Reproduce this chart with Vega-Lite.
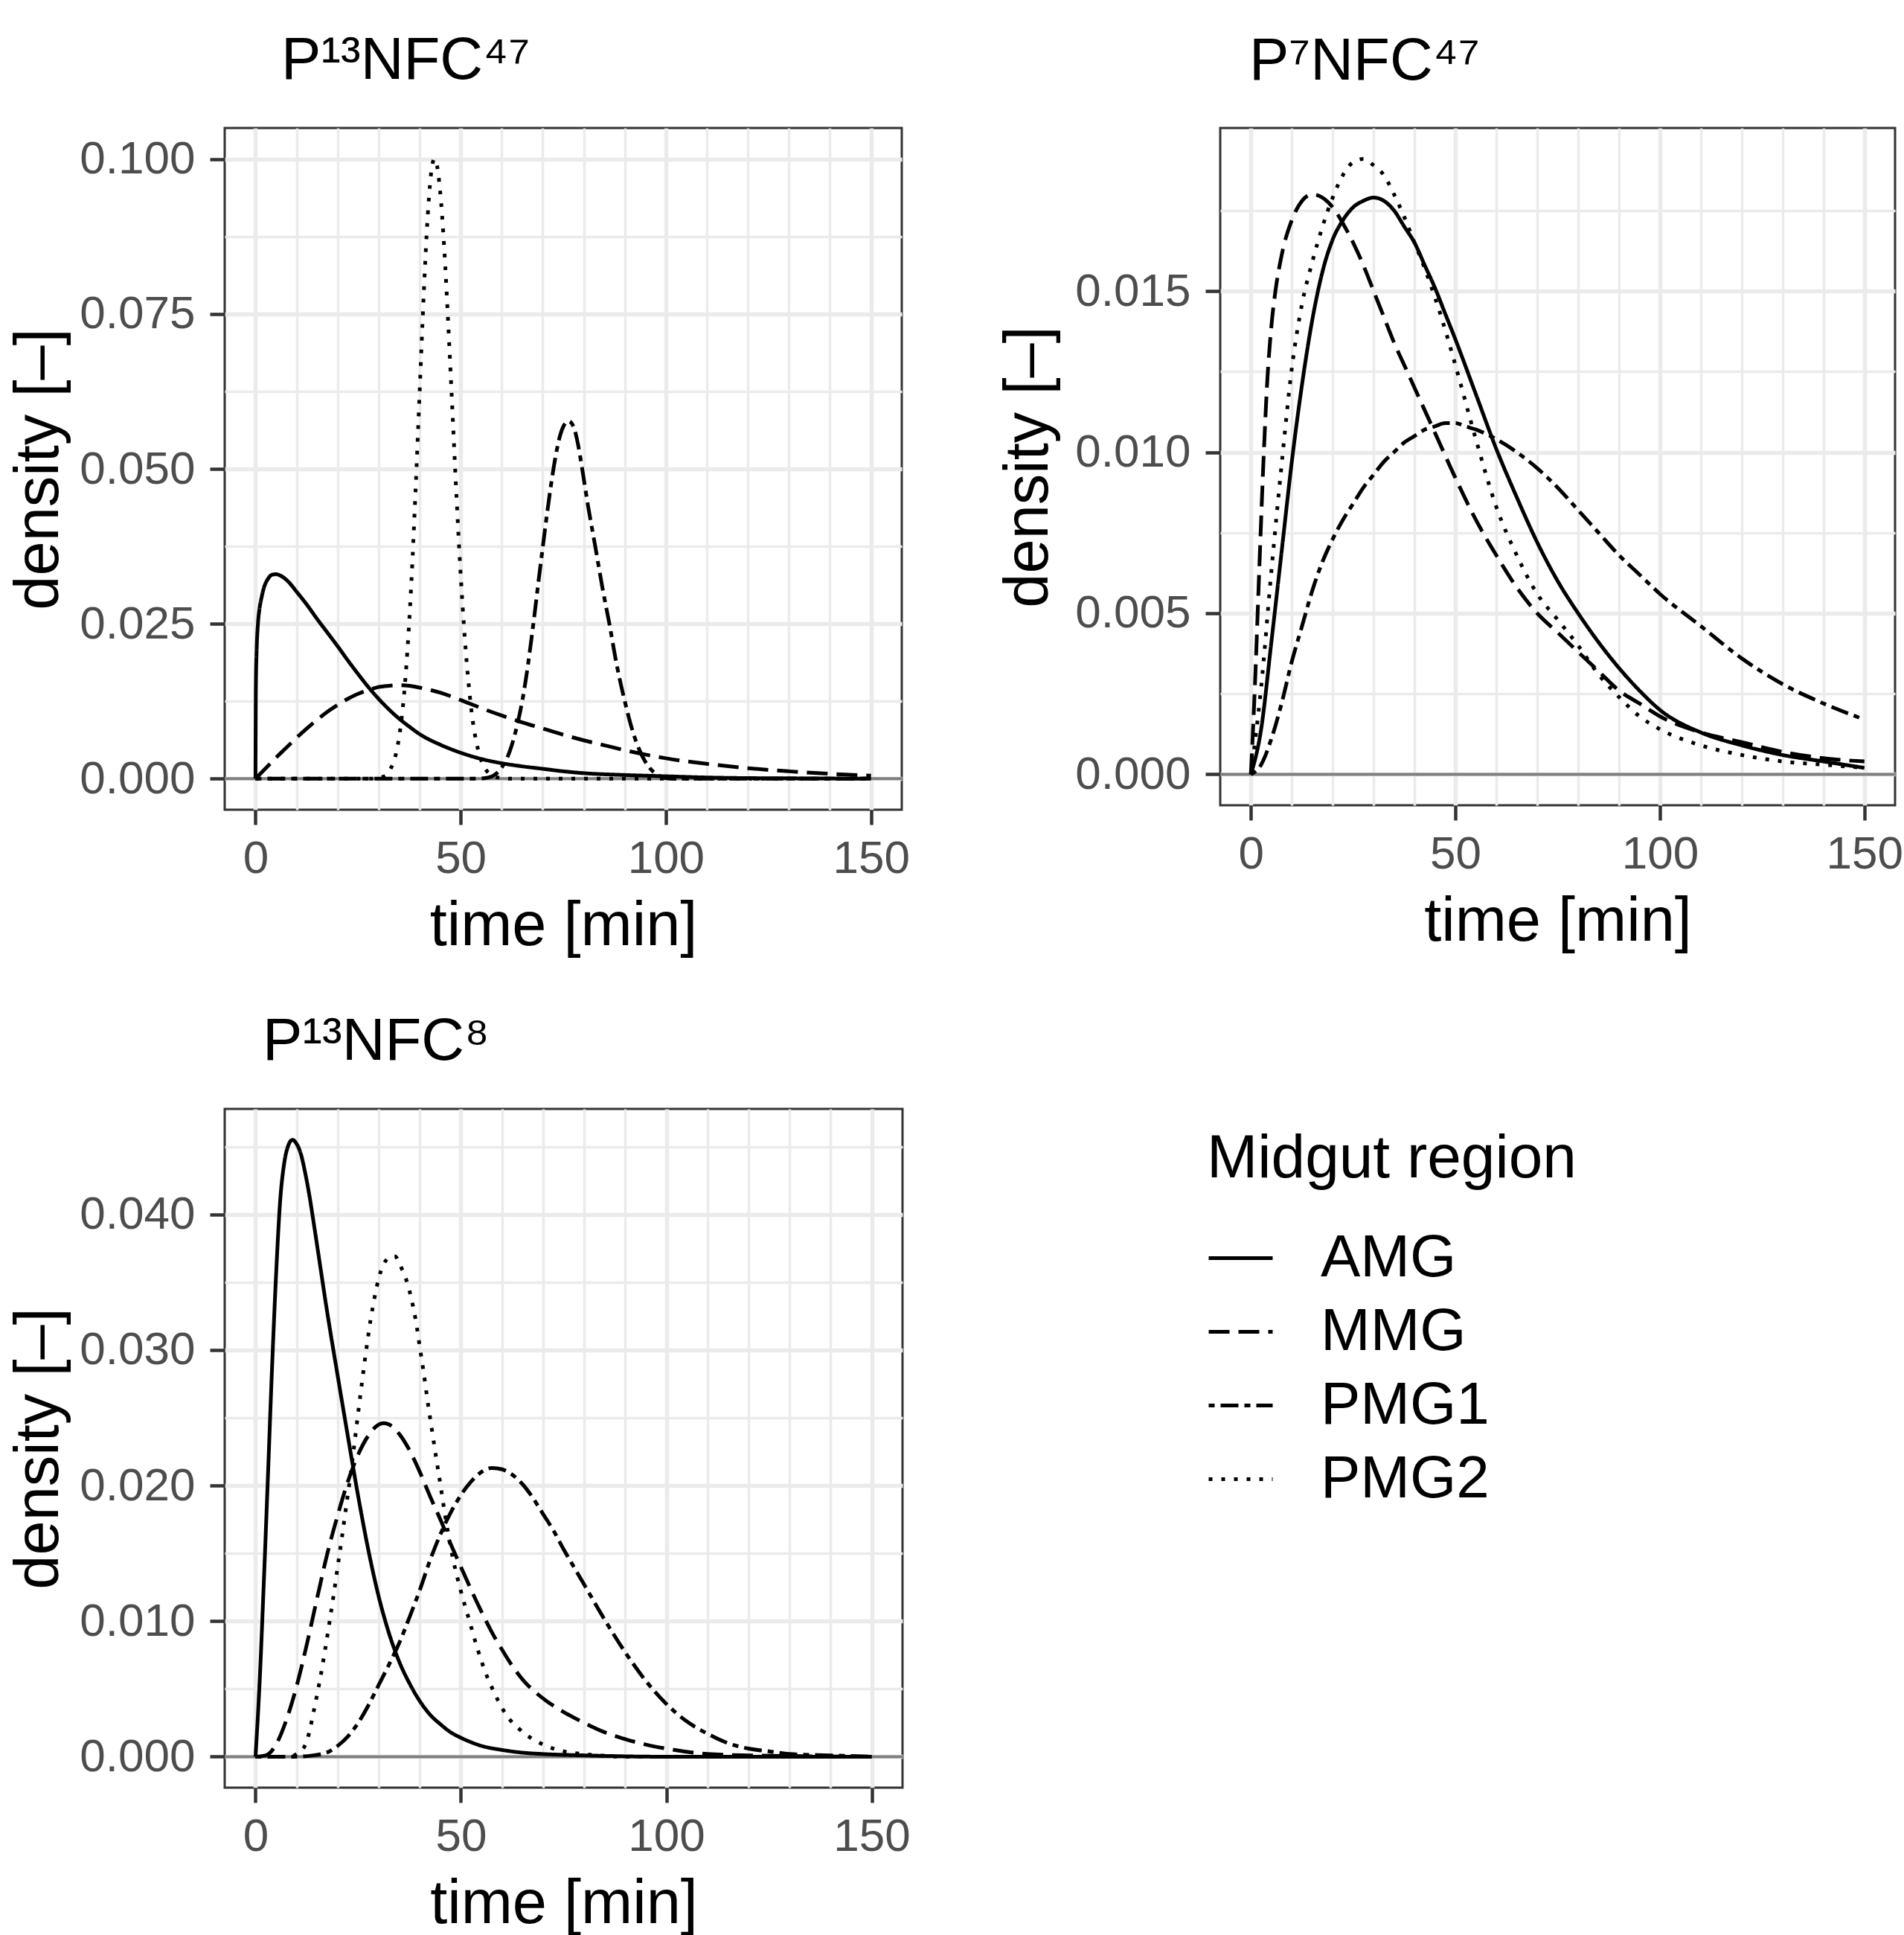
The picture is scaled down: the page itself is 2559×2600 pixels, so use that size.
{
"$schema": "https://vega.github.io/schema/vega-lite/v6.json",
"background": "white",
"padding": {"left": 10, "top": 40, "right": 0, "bottom": 0},
"config": {
  "font": "Liberation Sans",
  "view": {"stroke": "#333333", "strokeWidth": 3},
  "axis": {"domain": false, "grid": true, "labelFontSize": 62, "labelColor": "#4D4D4D", "titleFontSize": 83, "titleFontWeight": "normal", "titleColor": "black", "tickColor": "#333333", "tickWidth": 4.5, "tickSize": 20, "gridColor": "#EBEBEB", "labelOverlap": false, "labelFlush": false, "labelBound": false},
  "title": {"fontSize": 80, "fontWeight": "normal", "anchor": "start", "frame": "group", "baseline": "alphabetic", "color": "black"},
  "line": {"color": "black", "strokeWidth": 5, "interpolate": "monotone"}
},
"datasets": {
"tl": [
{"region":"AMG","time":0,"density":0},{"region":"AMG","time":0.1,"density":0.015},{"region":"AMG","time":0.3,"density":0.021},{"region":"AMG","time":0.6,"density":0.025},{"region":"AMG","time":1,"density":0.0275},{"region":"AMG","time":1.5,"density":0.0293},{"region":"AMG","time":2,"density":0.0307},{"region":"AMG","time":3,"density":0.0322},{"region":"AMG","time":4,"density":0.0329},{"region":"AMG","time":5,"density":0.033},{"region":"AMG","time":6,"density":0.0328},{"region":"AMG","time":8,"density":0.0318},{"region":"AMG","time":10,"density":0.0302},{"region":"AMG","time":12.5,"density":0.0281},{"region":"AMG","time":15,"density":0.0258},{"region":"AMG","time":17.5,"density":0.0236},{"region":"AMG","time":20,"density":0.0214},{"region":"AMG","time":22.5,"density":0.0191},{"region":"AMG","time":25,"density":0.0169},{"region":"AMG","time":27.5,"density":0.0148},{"region":"AMG","time":30,"density":0.0129},{"region":"AMG","time":32.5,"density":0.0112},{"region":"AMG","time":35,"density":0.0097},{"region":"AMG","time":37.5,"density":0.0084},{"region":"AMG","time":40,"density":0.0072},{"region":"AMG","time":45,"density":0.0055},{"region":"AMG","time":50,"density":0.0042},{"region":"AMG","time":55,"density":0.0032},{"region":"AMG","time":60,"density":0.0025},{"region":"AMG","time":65,"density":0.002},{"region":"AMG","time":70,"density":0.0016},{"region":"AMG","time":75,"density":0.0012},{"region":"AMG","time":80,"density":0.0009},{"region":"AMG","time":90,"density":0.0006},{"region":"AMG","time":100,"density":0.0004},{"region":"AMG","time":110,"density":0.0002},{"region":"AMG","time":120,"density":0.0001},{"region":"AMG","time":135,"density":0.00005},{"region":"AMG","time":150,"density":0},
{"region":"MMG","time":0,"density":0},{"region":"MMG","time":2.5,"density":0.0017},{"region":"MMG","time":5,"density":0.0034},{"region":"MMG","time":7.5,"density":0.005},{"region":"MMG","time":10,"density":0.0066},{"region":"MMG","time":12.5,"density":0.0081},{"region":"MMG","time":15,"density":0.0095},{"region":"MMG","time":17.5,"density":0.0108},{"region":"MMG","time":20,"density":0.0119},{"region":"MMG","time":22.5,"density":0.0129},{"region":"MMG","time":25,"density":0.0137},{"region":"MMG","time":27.5,"density":0.0143},{"region":"MMG","time":30,"density":0.0148},{"region":"MMG","time":32.5,"density":0.015},{"region":"MMG","time":35,"density":0.0151},{"region":"MMG","time":37.5,"density":0.015},{"region":"MMG","time":40,"density":0.0147},{"region":"MMG","time":45,"density":0.0139},{"region":"MMG","time":50,"density":0.0127},{"region":"MMG","time":55,"density":0.0114},{"region":"MMG","time":60,"density":0.0102},{"region":"MMG","time":65,"density":0.0091},{"region":"MMG","time":70,"density":0.0081},{"region":"MMG","time":75,"density":0.0071},{"region":"MMG","time":80,"density":0.0062},{"region":"MMG","time":85,"density":0.0054},{"region":"MMG","time":90,"density":0.0046},{"region":"MMG","time":95,"density":0.0039},{"region":"MMG","time":100,"density":0.0033},{"region":"MMG","time":110,"density":0.0024},{"region":"MMG","time":120,"density":0.0017},{"region":"MMG","time":130,"density":0.0012},{"region":"MMG","time":140,"density":0.0008},{"region":"MMG","time":150,"density":0.0005},
{"region":"PMG1","time":0,"density":0},{"region":"PMG1","time":54,"density":0},{"region":"PMG1","time":56,"density":0.0001},{"region":"PMG1","time":58,"density":0.0005},{"region":"PMG1","time":60,"density":0.0018},{"region":"PMG1","time":62,"density":0.0045},{"region":"PMG1","time":64,"density":0.0093},{"region":"PMG1","time":65,"density":0.0125},{"region":"PMG1","time":66,"density":0.0165},{"region":"PMG1","time":67,"density":0.0213},{"region":"PMG1","time":68,"density":0.0265},{"region":"PMG1","time":69,"density":0.032},{"region":"PMG1","time":70,"density":0.0373},{"region":"PMG1","time":71,"density":0.0425},{"region":"PMG1","time":72,"density":0.0473},{"region":"PMG1","time":73,"density":0.0515},{"region":"PMG1","time":74,"density":0.0548},{"region":"PMG1","time":75,"density":0.0568},{"region":"PMG1","time":76.3,"density":0.0577},{"region":"PMG1","time":77.5,"density":0.0568},{"region":"PMG1","time":78.5,"density":0.0543},{"region":"PMG1","time":79.5,"density":0.0505},{"region":"PMG1","time":81,"density":0.0442},{"region":"PMG1","time":82.8,"density":0.0375},{"region":"PMG1","time":84.5,"density":0.031},{"region":"PMG1","time":86.3,"density":0.0248},{"region":"PMG1","time":88,"density":0.0185},{"region":"PMG1","time":90,"density":0.0125},{"region":"PMG1","time":92,"density":0.0075},{"region":"PMG1","time":94,"density":0.004},{"region":"PMG1","time":96,"density":0.0018},{"region":"PMG1","time":98,"density":0.0006},{"region":"PMG1","time":100,"density":0.0001},{"region":"PMG1","time":102,"density":0},{"region":"PMG1","time":150,"density":0},
{"region":"PMG2","time":0,"density":0},{"region":"PMG2","time":28,"density":0},{"region":"PMG2","time":30,"density":0.0001},{"region":"PMG2","time":31,"density":0.0003},{"region":"PMG2","time":32,"density":0.0007},{"region":"PMG2","time":33,"density":0.0017},{"region":"PMG2","time":34,"density":0.0034},{"region":"PMG2","time":35,"density":0.0067},{"region":"PMG2","time":36,"density":0.0121},{"region":"PMG2","time":37,"density":0.0204},{"region":"PMG2","time":38,"density":0.0318},{"region":"PMG2","time":39,"density":0.0463},{"region":"PMG2","time":40,"density":0.0623},{"region":"PMG2","time":41,"density":0.0781},{"region":"PMG2","time":42,"density":0.0911},{"region":"PMG2","time":43,"density":0.0987},{"region":"PMG2","time":43.6,"density":0.1},{"region":"PMG2","time":44,"density":0.0996},{"region":"PMG2","time":45,"density":0.0948},{"region":"PMG2","time":46,"density":0.0856},{"region":"PMG2","time":47,"density":0.0731},{"region":"PMG2","time":48,"density":0.0593},{"region":"PMG2","time":49,"density":0.0454},{"region":"PMG2","time":50,"density":0.033},{"region":"PMG2","time":51,"density":0.0228},{"region":"PMG2","time":52,"density":0.0149},{"region":"PMG2","time":53,"density":0.0091},{"region":"PMG2","time":54,"density":0.0054},{"region":"PMG2","time":55,"density":0.003},{"region":"PMG2","time":56,"density":0.0016},{"region":"PMG2","time":57,"density":0.0008},{"region":"PMG2","time":58,"density":0.0004},{"region":"PMG2","time":60,"density":0.0001},{"region":"PMG2","time":62,"density":0},{"region":"PMG2","time":150,"density":0}
],
"tr": [
{"region":"AMG","time":0,"density":0},{"region":"AMG","time":2.5,"density":0.0014},{"region":"AMG","time":5,"density":0.0041},{"region":"AMG","time":7.5,"density":0.0069},{"region":"AMG","time":10,"density":0.0097},{"region":"AMG","time":12.5,"density":0.0121},{"region":"AMG","time":15,"density":0.0141},{"region":"AMG","time":17.5,"density":0.0156},{"region":"AMG","time":20,"density":0.0166},{"region":"AMG","time":22.5,"density":0.0172},{"region":"AMG","time":25,"density":0.0176},{"region":"AMG","time":27.5,"density":0.0178},{"region":"AMG","time":30,"density":0.0179},{"region":"AMG","time":32.5,"density":0.0178},{"region":"AMG","time":35,"density":0.0175},{"region":"AMG","time":37.5,"density":0.017},{"region":"AMG","time":40,"density":0.0165},{"region":"AMG","time":42.5,"density":0.0158},{"region":"AMG","time":45,"density":0.0151},{"region":"AMG","time":47.5,"density":0.0143},{"region":"AMG","time":50,"density":0.0135},{"region":"AMG","time":55,"density":0.0118},{"region":"AMG","time":60,"density":0.0101},{"region":"AMG","time":65,"density":0.0086},{"region":"AMG","time":70,"density":0.0072},{"region":"AMG","time":75,"density":0.006},{"region":"AMG","time":80,"density":0.005},{"region":"AMG","time":85,"density":0.0041},{"region":"AMG","time":90,"density":0.0033},{"region":"AMG","time":95,"density":0.0026},{"region":"AMG","time":100,"density":0.002},{"region":"AMG","time":110,"density":0.0013},{"region":"AMG","time":120,"density":0.0009},{"region":"AMG","time":130,"density":0.0006},{"region":"AMG","time":140,"density":0.0004},{"region":"AMG","time":150,"density":0.0002},
{"region":"MMG","time":0,"density":0},{"region":"MMG","time":1,"density":0.0028},{"region":"MMG","time":2,"density":0.0062},{"region":"MMG","time":3,"density":0.0095},{"region":"MMG","time":4,"density":0.0122},{"region":"MMG","time":5,"density":0.0139},{"region":"MMG","time":6,"density":0.015},{"region":"MMG","time":7.5,"density":0.0161},{"region":"MMG","time":10,"density":0.0172},{"region":"MMG","time":12.5,"density":0.0178},{"region":"MMG","time":15,"density":0.018},{"region":"MMG","time":17.5,"density":0.0179},{"region":"MMG","time":20,"density":0.0176},{"region":"MMG","time":22.5,"density":0.0171},{"region":"MMG","time":25,"density":0.0165},{"region":"MMG","time":27.5,"density":0.0158},{"region":"MMG","time":30,"density":0.015},{"region":"MMG","time":32.5,"density":0.0142},{"region":"MMG","time":35,"density":0.0134},{"region":"MMG","time":37.5,"density":0.0127},{"region":"MMG","time":40,"density":0.012},{"region":"MMG","time":45,"density":0.0106},{"region":"MMG","time":50,"density":0.0092},{"region":"MMG","time":55,"density":0.0079},{"region":"MMG","time":60,"density":0.0068},{"region":"MMG","time":65,"density":0.0058},{"region":"MMG","time":70,"density":0.005},{"region":"MMG","time":75,"density":0.0044},{"region":"MMG","time":80,"density":0.0038},{"region":"MMG","time":85,"density":0.0032},{"region":"MMG","time":90,"density":0.0026},{"region":"MMG","time":95,"density":0.0022},{"region":"MMG","time":100,"density":0.0018},{"region":"MMG","time":110,"density":0.0013},{"region":"MMG","time":120,"density":0.001},{"region":"MMG","time":130,"density":0.0007},{"region":"MMG","time":140,"density":0.0005},{"region":"MMG","time":150,"density":0.0004},
{"region":"PMG1","time":0,"density":0},{"region":"PMG1","time":2.5,"density":0.0003},{"region":"PMG1","time":5,"density":0.0011},{"region":"PMG1","time":7.5,"density":0.0022},{"region":"PMG1","time":10,"density":0.0035},{"region":"PMG1","time":12.5,"density":0.0046},{"region":"PMG1","time":15,"density":0.0057},{"region":"PMG1","time":17.5,"density":0.0066},{"region":"PMG1","time":20,"density":0.0073},{"region":"PMG1","time":22.5,"density":0.0079},{"region":"PMG1","time":25,"density":0.0084},{"region":"PMG1","time":27.5,"density":0.0089},{"region":"PMG1","time":30,"density":0.0093},{"region":"PMG1","time":32.5,"density":0.0097},{"region":"PMG1","time":35,"density":0.01},{"region":"PMG1","time":37.5,"density":0.0103},{"region":"PMG1","time":40,"density":0.0105},{"region":"PMG1","time":42.5,"density":0.0107},{"region":"PMG1","time":45,"density":0.0108},{"region":"PMG1","time":47.5,"density":0.0109},{"region":"PMG1","time":50,"density":0.0109},{"region":"PMG1","time":52.5,"density":0.0108},{"region":"PMG1","time":55,"density":0.0107},{"region":"PMG1","time":60,"density":0.0104},{"region":"PMG1","time":65,"density":0.01},{"region":"PMG1","time":70,"density":0.0095},{"region":"PMG1","time":75,"density":0.0089},{"region":"PMG1","time":80,"density":0.0082},{"region":"PMG1","time":85,"density":0.0075},{"region":"PMG1","time":90,"density":0.0068},{"region":"PMG1","time":95,"density":0.0062},{"region":"PMG1","time":100,"density":0.0056},{"region":"PMG1","time":110,"density":0.0046},{"region":"PMG1","time":120,"density":0.0036},{"region":"PMG1","time":130,"density":0.0028},{"region":"PMG1","time":140,"density":0.0022},{"region":"PMG1","time":150,"density":0.0017},
{"region":"PMG2","time":0,"density":0},{"region":"PMG2","time":2.5,"density":0.0027},{"region":"PMG2","time":5,"density":0.0063},{"region":"PMG2","time":7.5,"density":0.0096},{"region":"PMG2","time":10,"density":0.0126},{"region":"PMG2","time":12.5,"density":0.0146},{"region":"PMG2","time":15,"density":0.0159},{"region":"PMG2","time":17.5,"density":0.017},{"region":"PMG2","time":20,"density":0.0179},{"region":"PMG2","time":22.5,"density":0.0186},{"region":"PMG2","time":25,"density":0.019},{"region":"PMG2","time":27.5,"density":0.0191},{"region":"PMG2","time":30,"density":0.0189},{"region":"PMG2","time":32.5,"density":0.0186},{"region":"PMG2","time":35,"density":0.018},{"region":"PMG2","time":37.5,"density":0.0173},{"region":"PMG2","time":40,"density":0.0165},{"region":"PMG2","time":42.5,"density":0.0157},{"region":"PMG2","time":45,"density":0.0148},{"region":"PMG2","time":47.5,"density":0.0138},{"region":"PMG2","time":50,"density":0.0127},{"region":"PMG2","time":55,"density":0.0104},{"region":"PMG2","time":60,"density":0.0083},{"region":"PMG2","time":65,"density":0.0068},{"region":"PMG2","time":70,"density":0.0056},{"region":"PMG2","time":75,"density":0.0048},{"region":"PMG2","time":80,"density":0.004},{"region":"PMG2","time":85,"density":0.0031},{"region":"PMG2","time":90,"density":0.0024},{"region":"PMG2","time":95,"density":0.0018},{"region":"PMG2","time":100,"density":0.0014},{"region":"PMG2","time":110,"density":0.0009},{"region":"PMG2","time":120,"density":0.0006},{"region":"PMG2","time":130,"density":0.0004},{"region":"PMG2","time":140,"density":0.0003},{"region":"PMG2","time":150,"density":0.0002}
],
"bl": [
{"region":"AMG","time":0,"density":0},{"region":"AMG","time":1,"density":0.0055},{"region":"AMG","time":2,"density":0.0127},{"region":"AMG","time":3,"density":0.0205},{"region":"AMG","time":4,"density":0.0285},{"region":"AMG","time":5,"density":0.0355},{"region":"AMG","time":6,"density":0.041},{"region":"AMG","time":7,"density":0.0438},{"region":"AMG","time":8,"density":0.0451},{"region":"AMG","time":9,"density":0.0455},{"region":"AMG","time":10,"density":0.0452},{"region":"AMG","time":11,"density":0.0445},{"region":"AMG","time":12,"density":0.0432},{"region":"AMG","time":13,"density":0.0416},{"region":"AMG","time":14,"density":0.0397},{"region":"AMG","time":15,"density":0.0377},{"region":"AMG","time":17.5,"density":0.0327},{"region":"AMG","time":20,"density":0.0281},{"region":"AMG","time":22.5,"density":0.0236},{"region":"AMG","time":25,"density":0.0192},{"region":"AMG","time":27.5,"density":0.0152},{"region":"AMG","time":30,"density":0.0118},{"region":"AMG","time":32.5,"density":0.0091},{"region":"AMG","time":35,"density":0.007},{"region":"AMG","time":37.5,"density":0.0054},{"region":"AMG","time":40,"density":0.0041},{"region":"AMG","time":42.5,"density":0.0031},{"region":"AMG","time":45,"density":0.0024},{"region":"AMG","time":47.5,"density":0.0018},{"region":"AMG","time":50,"density":0.0014},{"region":"AMG","time":55,"density":0.0008},{"region":"AMG","time":60,"density":0.0005},{"region":"AMG","time":65,"density":0.0003},{"region":"AMG","time":70,"density":0.0002},{"region":"AMG","time":80,"density":0.0001},{"region":"AMG","time":100,"density":0},{"region":"AMG","time":150,"density":0},
{"region":"MMG","time":0,"density":0},{"region":"MMG","time":2.5,"density":0.0001},{"region":"MMG","time":5,"density":0.0009},{"region":"MMG","time":7.5,"density":0.0027},{"region":"MMG","time":10,"density":0.0052},{"region":"MMG","time":12.5,"density":0.0083},{"region":"MMG","time":15,"density":0.0117},{"region":"MMG","time":17.5,"density":0.015},{"region":"MMG","time":20,"density":0.0178},{"region":"MMG","time":22.5,"density":0.0203},{"region":"MMG","time":25,"density":0.0223},{"region":"MMG","time":27.5,"density":0.0237},{"region":"MMG","time":30,"density":0.0245},{"region":"MMG","time":31.2,"density":0.0246},{"region":"MMG","time":32.5,"density":0.0245},{"region":"MMG","time":35,"density":0.0238},{"region":"MMG","time":37.5,"density":0.0226},{"region":"MMG","time":40,"density":0.021},{"region":"MMG","time":42.5,"density":0.0192},{"region":"MMG","time":45,"density":0.0175},{"region":"MMG","time":47.5,"density":0.0157},{"region":"MMG","time":50,"density":0.014},{"region":"MMG","time":52.5,"density":0.0123},{"region":"MMG","time":55,"density":0.0107},{"region":"MMG","time":57.5,"density":0.0092},{"region":"MMG","time":60,"density":0.0079},{"region":"MMG","time":62.5,"density":0.0067},{"region":"MMG","time":65,"density":0.0057},{"region":"MMG","time":70,"density":0.0043},{"region":"MMG","time":75,"density":0.0033},{"region":"MMG","time":80,"density":0.0025},{"region":"MMG","time":85,"density":0.0018},{"region":"MMG","time":90,"density":0.0013},{"region":"MMG","time":95,"density":0.0009},{"region":"MMG","time":100,"density":0.0006},{"region":"MMG","time":110,"density":0.0002},{"region":"MMG","time":120,"density":0.0001},{"region":"MMG","time":150,"density":0},
{"region":"PMG1","time":0,"density":0},{"region":"PMG1","time":10,"density":0},{"region":"PMG1","time":14,"density":0.0001},{"region":"PMG1","time":16,"density":0.0002},{"region":"PMG1","time":18,"density":0.0004},{"region":"PMG1","time":20,"density":0.0008},{"region":"PMG1","time":22.5,"density":0.0015},{"region":"PMG1","time":25,"density":0.0025},{"region":"PMG1","time":27.5,"density":0.0038},{"region":"PMG1","time":30,"density":0.0053},{"region":"PMG1","time":32.5,"density":0.0068},{"region":"PMG1","time":35,"density":0.0084},{"region":"PMG1","time":37.5,"density":0.0103},{"region":"PMG1","time":40,"density":0.0123},{"region":"PMG1","time":42.5,"density":0.0145},{"region":"PMG1","time":45,"density":0.0164},{"region":"PMG1","time":47.5,"density":0.018},{"region":"PMG1","time":50,"density":0.0193},{"region":"PMG1","time":52.5,"density":0.0203},{"region":"PMG1","time":55,"density":0.021},{"region":"PMG1","time":57.5,"density":0.0213},{"region":"PMG1","time":60,"density":0.0212},{"region":"PMG1","time":62.5,"density":0.0208},{"region":"PMG1","time":65,"density":0.0201},{"region":"PMG1","time":67.5,"density":0.0191},{"region":"PMG1","time":70,"density":0.0179},{"region":"PMG1","time":72.5,"density":0.0167},{"region":"PMG1","time":75,"density":0.0153},{"region":"PMG1","time":77.5,"density":0.014},{"region":"PMG1","time":80,"density":0.0127},{"region":"PMG1","time":85,"density":0.0101},{"region":"PMG1","time":90,"density":0.0077},{"region":"PMG1","time":95,"density":0.0056},{"region":"PMG1","time":100,"density":0.0039},{"region":"PMG1","time":105,"density":0.0026},{"region":"PMG1","time":110,"density":0.0017},{"region":"PMG1","time":115,"density":0.001},{"region":"PMG1","time":120,"density":0.0006},{"region":"PMG1","time":125,"density":0.0004},{"region":"PMG1","time":130,"density":0.0002},{"region":"PMG1","time":140,"density":0.0001},{"region":"PMG1","time":150,"density":0},
{"region":"PMG2","time":0,"density":0},{"region":"PMG2","time":8,"density":0},{"region":"PMG2","time":10,"density":0.0002},{"region":"PMG2","time":12,"density":0.0008},{"region":"PMG2","time":13,"density":0.0017},{"region":"PMG2","time":14,"density":0.0031},{"region":"PMG2","time":15,"density":0.0046},{"region":"PMG2","time":16,"density":0.0062},{"region":"PMG2","time":17,"density":0.008},{"region":"PMG2","time":18,"density":0.0099},{"region":"PMG2","time":19,"density":0.0119},{"region":"PMG2","time":20,"density":0.014},{"region":"PMG2","time":21,"density":0.0161},{"region":"PMG2","time":22,"density":0.0183},{"region":"PMG2","time":23,"density":0.0205},{"region":"PMG2","time":24,"density":0.0229},{"region":"PMG2","time":25,"density":0.0254},{"region":"PMG2","time":26,"density":0.0278},{"region":"PMG2","time":27,"density":0.0301},{"region":"PMG2","time":28,"density":0.0322},{"region":"PMG2","time":29,"density":0.0339},{"region":"PMG2","time":30,"density":0.0353},{"region":"PMG2","time":31,"density":0.0362},{"region":"PMG2","time":32,"density":0.0367},{"region":"PMG2","time":33,"density":0.0369},{"region":"PMG2","time":34,"density":0.0369},{"region":"PMG2","time":35,"density":0.0364},{"region":"PMG2","time":36,"density":0.0357},{"region":"PMG2","time":37,"density":0.0349},{"region":"PMG2","time":38,"density":0.0337},{"region":"PMG2","time":39,"density":0.0322},{"region":"PMG2","time":40,"density":0.0302},{"region":"PMG2","time":41,"density":0.0282},{"region":"PMG2","time":42,"density":0.026},{"region":"PMG2","time":43,"density":0.024},{"region":"PMG2","time":44,"density":0.022},{"region":"PMG2","time":45,"density":0.0201},{"region":"PMG2","time":46,"density":0.0181},{"region":"PMG2","time":47,"density":0.0163},{"region":"PMG2","time":48,"density":0.0147},{"region":"PMG2","time":50,"density":0.0122},{"region":"PMG2","time":52,"density":0.0101},{"region":"PMG2","time":54,"density":0.008},{"region":"PMG2","time":56,"density":0.0062},{"region":"PMG2","time":58,"density":0.0048},{"region":"PMG2","time":60,"density":0.0036},{"region":"PMG2","time":62,"density":0.0027},{"region":"PMG2","time":64,"density":0.0021},{"region":"PMG2","time":66,"density":0.0016},{"region":"PMG2","time":70,"density":0.0009},{"region":"PMG2","time":75,"density":0.0004},{"region":"PMG2","time":80,"density":0.0002},{"region":"PMG2","time":90,"density":0},{"region":"PMG2","time":150,"density":0}
]
},
"resolve": {"scale": {"x": "independent", "y": "independent", "strokeDash": "independent"}, "axis": {"x": "independent", "y": "independent"}, "legend": {"strokeDash": "independent"}},
"columns": 1,
"align": "none",
"spacing": 70,
"concat": [
{
  "resolve": {"scale": {"x": "independent", "y": "independent", "strokeDash": "independent"}, "axis": {"x": "independent", "y": "independent"}, "legend": {"strokeDash": "independent"}},
  "spacing": 116,
  "hconcat": [
  {
    "width": 910, "height": 916,
    "title": {"text": "P¹³NFC⁴⁷", "dx": 76, "offset": 49},
    "data": {"name": "tl"},
    "layer": [
      {"data": {"values": [{}]}, "mark": {"type": "rule", "color": "#7F7F7F", "strokeWidth": 4}, "encoding": {"y": {"datum": 0, "type": "quantitative"}}},
      {"mark": {"type": "line"},
       "encoding": {
         "x": {"field": "time", "type": "quantitative", "scale": {"domain": [-7.5, 157.5], "nice": false, "zero": false},
           "axis": {"title": "time [min]", "grid": true, "values": [0,10,20,30,40,50,60,70,80,90,100,110,120,130,140,150], "labelExpr": "datum.value % 50 === 0 ? datum.label : ''", "tickOpacity": {"condition": {"test": "datum.value % 50 === 0", "value": 1}, "value": 0}, "gridWidth": {"condition": {"test": "datum.value % 50 === 0", "value": 5.5}, "value": 3.5}, "labelPadding": 15, "titlePadding": 19}},
         "y": {"field": "density", "type": "quantitative", "scale": {"domain": [-0.005, 0.105], "nice": false, "zero": false},
           "axis": {"title": "density [–]", "grid": true, "values": [0,0.0125,0.025,0.0375,0.05,0.0625,0.075,0.0875,0.1], "format": ".3f", "labelExpr": "abs(datum.value/0.025 - round(datum.value/0.025)) < 0.01 ? datum.label : ''", "tickOpacity": {"condition": {"test": "abs(datum.value/0.025 - round(datum.value/0.025)) < 0.01", "value": 1}, "value": 0}, "gridWidth": {"condition": {"test": "abs(datum.value/0.025 - round(datum.value/0.025)) < 0.01", "value": 5.5}, "value": 3.5}, "labelPadding": 20, "titlePadding": 12}},
         "strokeDash": {"field": "region", "type": "nominal", "scale": {"domain": ["AMG","MMG","PMG1","PMG2"], "range": [[1,0],[28,12],[8,8,24,8],[5,12]]}, "legend": null}
       }}
    ]
  },
  {
    "width": 907, "height": 910,
    "title": {"text": "P⁷NFC⁴⁷", "dx": 39, "offset": 48},
    "data": {"name": "tr"},
    "layer": [
      {"data": {"values": [{}]}, "mark": {"type": "rule", "color": "#7F7F7F", "strokeWidth": 4}, "encoding": {"y": {"datum": 0, "type": "quantitative"}}},
      {"mark": {"type": "line"},
       "encoding": {
         "x": {"field": "time", "type": "quantitative", "scale": {"domain": [-7.5, 157.5], "nice": false, "zero": false},
           "axis": {"title": "time [min]", "grid": true, "values": [0,10,20,30,40,50,60,70,80,90,100,110,120,130,140,150], "labelExpr": "datum.value % 50 === 0 ? datum.label : ''", "tickOpacity": {"condition": {"test": "datum.value % 50 === 0", "value": 1}, "value": 0}, "gridWidth": {"condition": {"test": "datum.value % 50 === 0", "value": 5.5}, "value": 3.5}, "labelPadding": 15, "titlePadding": 19}},
         "y": {"field": "density", "type": "quantitative", "scale": {"domain": [-0.00096, 0.02006], "nice": false, "zero": false},
           "axis": {"title": "density [–]", "grid": true, "values": [0,0.0025,0.005,0.0075,0.01,0.0125,0.015,0.0175], "format": ".3f", "labelExpr": "abs(datum.value/0.005 - round(datum.value/0.005)) < 0.01 ? datum.label : ''", "tickOpacity": {"condition": {"test": "abs(datum.value/0.005 - round(datum.value/0.005)) < 0.01", "value": 1}, "value": 0}, "gridWidth": {"condition": {"test": "abs(datum.value/0.005 - round(datum.value/0.005)) < 0.01", "value": 5.5}, "value": 3.5}, "labelPadding": 20, "titlePadding": 20}},
         "strokeDash": {"field": "region", "type": "nominal", "scale": {"domain": ["AMG","MMG","PMG1","PMG2"], "range": [[1,0],[28,12],[8,8,24,8],[5,12]]}, "legend": null}
       }}
    ]
  }
  ]
},
{
  "width": 911, "height": 912,
  "title": {"text": "P¹³NFC⁸", "dx": 51, "offset": 49},
  "data": {"name": "bl"},
  "layer": [
    {"data": {"values": [{}]}, "mark": {"type": "rule", "color": "#7F7F7F", "strokeWidth": 4}, "encoding": {"y": {"datum": 0, "type": "quantitative"}}},
    {"mark": {"type": "line"},
     "encoding": {
       "x": {"field": "time", "type": "quantitative", "scale": {"domain": [-7.5, 157.5], "nice": false, "zero": false},
         "axis": {"title": "time [min]", "grid": true, "values": [0,10,20,30,40,50,60,70,80,90,100,110,120,130,140,150], "labelExpr": "datum.value % 50 === 0 ? datum.label : ''", "tickOpacity": {"condition": {"test": "datum.value % 50 === 0", "value": 1}, "value": 0}, "gridWidth": {"condition": {"test": "datum.value % 50 === 0", "value": 5.5}, "value": 3.5}, "labelPadding": 15, "titlePadding": 19}},
       "y": {"field": "density", "type": "quantitative", "scale": {"domain": [-0.00228, 0.04778], "nice": false, "zero": false},
         "axis": {"title": "density [–]", "grid": true, "values": [0,0.005,0.01,0.015,0.02,0.025,0.03,0.035,0.04,0.045], "format": ".3f", "labelExpr": "abs(datum.value/0.01 - round(datum.value/0.01)) < 0.01 ? datum.label : ''", "tickOpacity": {"condition": {"test": "abs(datum.value/0.01 - round(datum.value/0.01)) < 0.01", "value": 1}, "value": 0}, "gridWidth": {"condition": {"test": "abs(datum.value/0.01 - round(datum.value/0.01)) < 0.01", "value": 5.5}, "value": 3.5}, "labelPadding": 20, "titlePadding": 12}},
       "strokeDash": {"field": "region", "type": "nominal", "scale": {"domain": ["AMG","MMG","PMG1","PMG2"], "range": [[1,0],[28,12],[8,8,24,8],[5,12]]},
         "legend": {"title": "Midgut region", "orient": "none", "legendX": 1320, "legendY": 27, "titleFontSize": 82, "titleFontWeight": "normal", "titleColor": "black", "titleLimit": 0, "labelFontSize": 80, "labelColor": "black", "labelLimit": 0, "symbolType": "stroke", "symbolStrokeWidth": 8, "symbolSize": 7396, "symbolStrokeColor": "black", "labelOffset": 62, "rowPadding": 13, "titlePadding": 46,
           "encode": {"symbols": {"update": {"strokeDash": {"signal": "datum.value === 'MMG' ? [48,20] : datum.value === 'PMG1' ? [16,10,36,16] : datum.value === 'PMG2' ? [6,15] : [1,0]"}, "strokeWidth": {"value": 8}}}}}}
     }}
  ]
}
]
}
